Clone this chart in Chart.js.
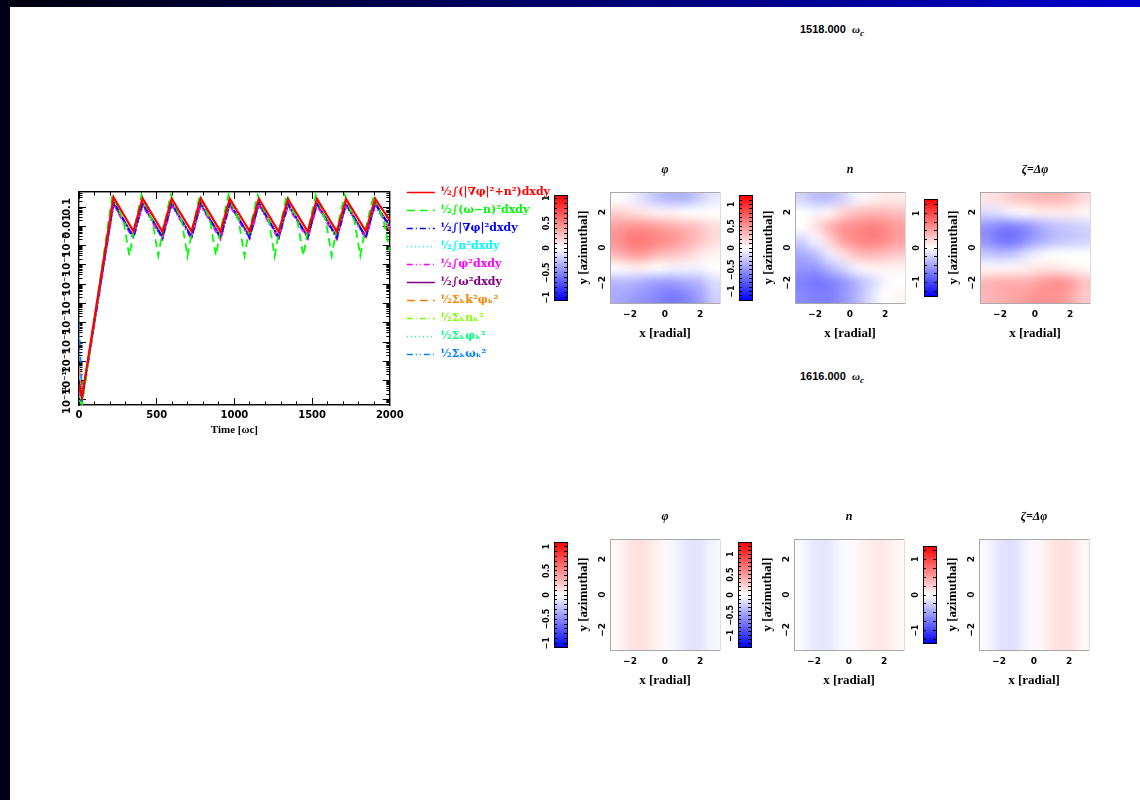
<!DOCTYPE html>
<html>
<head>
<meta charset="utf-8">
<script src="https://cdn.jsdelivr.net/npm/chart.js@4.4.1/dist/chart.umd.min.js"></script>
<style>
body{margin:0;background:#fff;width:1140px;height:800px;position:relative;overflow:hidden}
#topbar{position:absolute;left:0;top:0;width:1140px;height:7px;background:linear-gradient(to right,#00000c,#0000cc)}
#leftbar{position:absolute;left:0;top:0;width:10px;height:800px;background:#000018}
.box{position:absolute}
.stamp{position:absolute;width:200px;text-align:center;font:bold 11px 'Liberation Sans',sans-serif;color:#000}
.stamp i{font-family:'Liberation Serif',serif}
</style>
</head>
<body>
<div id="topbar"></div>
<div id="leftbar"></div>
<div class="stamp" style="left:732px;top:23px">1518.000&nbsp; <i>ω<sub>c</sub></i></div>
<div class="stamp" style="left:732px;top:370px">1616.000&nbsp; <i>ω<sub>c</sub></i></div>
<div class="box" id="wLine" style="left:55px;top:180px;width:505px;height:263px"><canvas id="cLine"></canvas></div>
<script>
// ---- energy time traces ----
const tMain = [0, 20, 222, 350, 409, 537, 596, 724, 783, 911, 970, 1098, 1157, 1285, 1344, 1472, 1531, 1659, 1718, 1846, 1905, 2000];
const eTotal   = [6e-11, 1.5e-11, 0.32, 0.0055, 0.28, 0.0052, 0.27, 0.0055, 0.28, 0.0053, 0.27, 0.0055, 0.27, 0.0052, 0.26, 0.0054, 0.27, 0.0053, 0.26, 0.0055, 0.27, 0.02];
const eGradPhi = [8e-11, 1.2e-11, 0.2, 0.0026, 0.17, 0.0025, 0.17, 0.0026, 0.17, 0.0025, 0.17, 0.0026, 0.17, 0.0025, 0.16, 0.0026, 0.17, 0.0025, 0.16, 0.0026, 0.17, 0.009];
const eDen2    = [4e-11, 1e-11, 0.17, 0.0029, 0.15, 0.0028, 0.15, 0.0029, 0.15, 0.0028, 0.15, 0.0029, 0.15, 0.0028, 0.14, 0.0029, 0.15, 0.0028, 0.14, 0.0029, 0.15, 0.01];
const ePhi2    = [3e-11, 8e-12, 0.13, 0.0022, 0.12, 0.0021, 0.12, 0.0022, 0.12, 0.0021, 0.12, 0.0022, 0.12, 0.0021, 0.11, 0.0022, 0.12, 0.0021, 0.11, 0.0022, 0.12, 0.007];
const eVort2   = [5e-11, 1.3e-11, 0.15, 0.0031, 0.14, 0.003, 0.14, 0.0031, 0.14, 0.003, 0.14, 0.0031, 0.14, 0.003, 0.13, 0.0031, 0.14, 0.003, 0.13, 0.0031, 0.14, 0.011];
const eSpecK2  = [5e-10, 1.4e-11, 0.19, 0.0027, 0.17, 0.0026, 0.17, 0.0027, 0.17, 0.0026, 0.17, 0.0027, 0.17, 0.0026, 0.16, 0.0027, 0.17, 0.0026, 0.16, 0.0027, 0.17, 0.006];
const eSpecN   = [2e-11, 9e-12, 0.16, 0.0028, 0.15, 0.0027, 0.15, 0.0028, 0.15, 0.0027, 0.15, 0.0028, 0.15, 0.0027, 0.14, 0.0028, 0.15, 0.0027, 0.14, 0.0028, 0.15, 0.009];
const eSpecPhi = [3e-11, 1e-11, 0.13, 0.0024, 0.12, 0.0023, 0.12, 0.0024, 0.12, 0.0023, 0.12, 0.0024, 0.12, 0.0023, 0.11, 0.0024, 0.12, 0.0023, 0.11, 0.0024, 0.12, 0.008];
const eSpecW   = [1e-7, 1.3e-11, 0.16, 0.0026, 0.15, 0.0025, 0.15, 0.0026, 0.15, 0.0025, 0.15, 0.0026, 0.15, 0.0025, 0.14, 0.0026, 0.15, 0.0025, 0.14, 0.0026, 0.15, 0.009];
const tDiff = [0, 20, 215, 286, 324, 349, 402, 472, 510, 535, 590, 660, 698, 723, 777, 843, 881, 906, 962, 1027, 1065, 1090,
               1150, 1221, 1259, 1284, 1337, 1405, 1443, 1468, 1523, 1588, 1626, 1651, 1710, 1772, 1810, 1835, 1897, 1960, 2000];
const eDiff = [1e-11, 6e-12, 0.45, 0.02, 3e-4, 4e-3, 0.42, 0.02, 3e-4, 4e-3, 0.43, 0.02, 2.8e-4, 4e-3, 0.42, 0.02, 3e-4, 4e-3, 0.43, 0.02, 3e-4, 4e-3,
               0.42, 0.02, 2.8e-4, 4e-3, 0.43, 0.02, 3e-4, 4e-3, 0.42, 0.02, 3e-4, 4e-3, 0.43, 0.02, 3e-4, 4e-3, 0.42, 0.02, 5e-4];

const seriesLabels = ['½∫(|∇φ|²+n²)dxdy', '½∫(ω−n)²dxdy', '½∫|∇φ|²dxdy', '½∫n²dxdy', '½∫φ²dxdy', '½∫ω²dxdy',
                      '½Σₖk²φₖ²', '½Σₖnₖ²', '½Σₖφₖ²', '½Σₖωₖ²'];
const seriesColors = ['#ff0000', '#00ff00', '#0000ff', '#00ffff', '#ff00ff', '#800080', '#ff8000', '#80ff00', '#00ff80', '#0080ff'];
const seriesDash = [[], [8, 5], [6, 3, 1, 3], [1, 3], [6, 3, 1, 3, 1, 3], [], [8, 5], [6, 3, 1, 3], [1, 3], [6, 3, 1, 3, 1, 3]];

const xMajor = [0, 500, 1000, 1500, 2000];
const yMajor = [1e-11, 1e-10, 1e-9, 1e-8, 1e-7, 1e-6, 1e-5, 1e-4, 1e-3, 0.01, 0.1];
const yMajorLabels = ['10⁻¹¹', '10⁻¹⁰', '10⁻⁹', '10⁻⁸', '10⁻⁷', '10⁻⁶', '10⁻⁵', '10⁻⁴', '10⁻³', '0.01', '0.1'];
const yMin = 5.5e-12, yMax = 0.6;

// ---- field snapshots: rows top (y=π) to bottom (y=−π), columns x=−π..π ----
const phiA = [
  [0.0, -0.05, -0.15, -0.25, -0.3, -0.3, -0.2, -0.1],
  [0.2, 0.15, 0.1, 0.05, 0.05, 0.0, 0.0, 0.0],
  [0.4, 0.45, 0.45, 0.4, 0.35, 0.3, 0.25, 0.15],
  [0.45, 0.55, 0.55, 0.5, 0.45, 0.35, 0.25, 0.15],
  [0.3, 0.4, 0.4, 0.3, 0.25, 0.2, 0.1, 0.05],
  [0.0, 0.05, 0.05, 0.0, -0.05, -0.05, -0.05, 0.0],
  [-0.3, -0.3, -0.35, -0.4, -0.4, -0.35, -0.3, -0.15],
  [-0.35, -0.4, -0.45, -0.5, -0.55, -0.5, -0.4, -0.2]
];
const denA = [
  [-0.2, -0.3, -0.3, -0.2, -0.05, 0.05, 0.1, 0.1],
  [0.0, -0.05, 0.05, 0.2, 0.3, 0.35, 0.35, 0.3],
  [0.0, 0.15, 0.35, 0.5, 0.55, 0.6, 0.55, 0.45],
  [-0.2, -0.05, 0.2, 0.45, 0.55, 0.6, 0.55, 0.45],
  [-0.4, -0.3, -0.1, 0.15, 0.3, 0.35, 0.3, 0.25],
  [-0.5, -0.5, -0.35, -0.2, -0.05, 0.05, 0.05, 0.05],
  [-0.6, -0.65, -0.6, -0.5, -0.35, -0.2, -0.05, 0.0],
  [-0.55, -0.6, -0.6, -0.5, -0.35, -0.15, 0.0, 0.05]
];
const vortA = [
  [0.15, 0.2, 0.3, 0.35, 0.4, 0.4, 0.35, 0.2],
  [-0.2, -0.15, -0.05, 0.05, 0.1, 0.1, 0.1, 0.05],
  [-0.6, -0.7, -0.7, -0.6, -0.45, -0.35, -0.3, -0.25],
  [-0.6, -0.75, -0.75, -0.6, -0.45, -0.35, -0.3, -0.25],
  [-0.3, -0.35, -0.3, -0.15, -0.05, 0.0, 0.0, 0.0],
  [0.05, 0.05, 0.05, 0.1, 0.15, 0.15, 0.1, 0.05],
  [0.4, 0.45, 0.45, 0.45, 0.55, 0.6, 0.55, 0.35],
  [0.4, 0.45, 0.5, 0.55, 0.6, 0.6, 0.5, 0.3]
];
const phiB = [[0.03, 0.12, 0.13, 0.05, -0.03, -0.1, -0.12, -0.04]];
const denB = [[-0.03, -0.12, -0.12, -0.03, 0.04, 0.1, 0.12, 0.05]];
const vortB = [[-0.03, -0.15, -0.17, -0.05, 0.05, 0.15, 0.17, 0.05]];

const heatTicks = [-2, 0, 2];
const heatTickLabels = ['−2', '0', '2'];
const cbTicksA = [-1, -0.5, 0, 0.5, 1];
const cbLabelsA = ['−1', '−0.5', '0', '0.5', '1'];
const cbTicksB = [-1, 0, 1];
const cbLabelsB = ['−1', '0', '1'];
</script>
<script>
Chart.defaults.animation = false;
Chart.defaults.responsive = true;
Chart.defaults.maintainAspectRatio = false;
Chart.defaults.devicePixelRatio = 1;
Chart.defaults.events = [];
Chart.defaults.plugins.tooltip.enabled = false;
Chart.defaults.color = '#000';

const tickFont = {family: 'DejaVu Sans', weight: 'bold', size: 10};
const axisTitleFont = {family: 'Liberation Serif', weight: 'bold', size: 11};

function rgbFor(v, range) {
  const s = Math.max(-1, Math.min(1, v / range));
  if (s < 0) { const w = Math.round(255 * (1 + s)); return [w, w, 255]; }
  const w = Math.round(255 * (1 - s));
  return [255, w, w];
}

// paints the colour field / colour bar under the axes, placed with the chart scales
const fieldPaint = {
  id: 'fieldPaint',
  beforeDraw(chart, args, o) {
    if (!o || !o.mode) return;
    const ctx = chart.ctx, xs = chart.scales.x, ys = chart.scales.y;
    ctx.save();
    if (o.mode === 'bar') {
      const y0 = ys.getPixelForValue(-o.range), y1 = ys.getPixelForValue(o.range);
      const g = ctx.createLinearGradient(0, y0, 0, y1);
      g.addColorStop(0, 'rgb(0,0,255)');
      g.addColorStop(0.5, 'rgb(255,255,255)');
      g.addColorStop(1, 'rgb(255,0,0)');
      ctx.fillStyle = g;
      ctx.fillRect(chart.chartArea.left, y1, chart.chartArea.width, y0 - y1);
    } else {
      const grid = o.grid, rows = grid.length, cols = grid[0].length;
      const off = document.createElement('canvas');
      off.width = cols; off.height = rows;
      const octx = off.getContext('2d');
      const img = octx.createImageData(cols, rows);
      grid.forEach((row, j) => row.forEach((v, i) => {
        const c = rgbFor(v, o.range), k = 4 * (j * cols + i);
        img.data[k] = c[0]; img.data[k + 1] = c[1]; img.data[k + 2] = c[2]; img.data[k + 3] = 255;
      }));
      octx.putImageData(img, 0, 0);
      const xa = xs.getPixelForValue(-Math.PI), xb = xs.getPixelForValue(Math.PI);
      const ya = ys.getPixelForValue(Math.PI), yb = ys.getPixelForValue(-Math.PI);
      ctx.imageSmoothingEnabled = true;
      ctx.imageSmoothingQuality = 'high';
      ctx.drawImage(off, xa, ya, xb - xa, yb - ya);
    }
    ctx.restore();
  }
};
Chart.register(fieldPaint);

function addBox(id, left, top, w, h) {
  const d = document.createElement('div');
  d.className = 'box';
  d.style.cssText = `left:${left}px;top:${top}px;width:${w}px;height:${h}px`;
  const c = document.createElement('canvas');
  c.id = id;
  d.appendChild(c);
  document.body.appendChild(d);
  return c;
}

// ---------- energy traces ----------
const lineSets = [eTotal, eDiff, eGradPhi, eDen2, ePhi2, eVort2, eSpecK2, eSpecN, eSpecPhi, eSpecW];
const lineData = {
  datasets: lineSets.map((vals, i) => ({
    label: seriesLabels[i],
    data: vals.map((v, j) => ({x: (i === 1 ? tDiff : tMain)[j], y: v})),
    borderColor: seriesColors[i],
    backgroundColor: seriesColors[i],
    borderDash: seriesDash[i],
    borderWidth: i === 0 ? 2.2 : 1.8,
    pointRadius: 0,
    pointStyle: 'line',
    tension: 0
  }))
};

const frame = {display: true, color: '#000', width: 1.2};
const xMinorTicks = [];
for (let v = 0; v <= 2000; v += 100) xMinorTicks.push({value: v});
const yMinorTicks = [];
[1e-12].concat(yMajor).forEach(d => [2, 3, 4, 5, 6, 7, 8, 9].forEach(m => {
  const v = m * d;
  if (v >= yMin && v <= yMax) yMinorTicks.push({value: v});
}));

function linAxis(pos, weight, ticks, tl, extra) {
  return Object.assign({
    type: 'linear', position: pos, weight: weight, min: 0, max: 2000,
    afterBuildTicks: s => { s.ticks = ticks.map(t => ({value: t.value})); },
    ticks: {display: false, autoSkip: false},
    grid: {drawOnChartArea: false, tickLength: tl, color: '#000', lineWidth: 1},
    border: frame
  }, extra || {});
}
function logAxis(pos, weight, ticks, tl, extra) {
  return Object.assign({
    type: 'logarithmic', position: pos, weight: weight, min: yMin, max: yMax,
    afterBuildTicks: s => { s.ticks = ticks.map(t => ({value: t.value})); },
    ticks: {display: false, autoSkip: false},
    grid: {drawOnChartArea: false, tickLength: tl, color: '#000', lineWidth: 1},
    border: frame
  }, extra || {});
}

new Chart(document.getElementById('cLine'), {
  type: 'line',
  data: lineData,
  options: {
    parsing: true,
    layout: {padding: 0},
    scales: {
      x: linAxis('bottom', 1, xMajor.map(v => ({value: v})), -7, {
        afterFit: s => { s.height = 38; },
        ticks: {display: true, autoSkip: false, maxRotation: 0, padding: 11, font: tickFont, color: '#000',
                callback: (v, i) => String(xMajor[i])},
        title: {display: true, text: 'Time [ωc]', font: axisTitleFont, color: '#000', padding: {top: 0, bottom: 6}}
      }),
      xm: linAxis('bottom', 0, xMinorTicks, -3.5, {afterFit: s => { s.height = 0; }}),
      x2: linAxis('top', 1, xMajor.map(v => ({value: v})), -7, {afterFit: s => { s.height = 12; }}),
      x2m: linAxis('top', 0, xMinorTicks, -3.5, {afterFit: s => { s.height = 0; }}),
      y: logAxis('left', 1, yMajor.map(v => ({value: v})), -7, {
        afterFit: s => { s.width = 24; },
        ticks: {display: true, autoSkip: false, minRotation: 90, maxRotation: 90, crossAlign: 'center', padding: 5,
                font: tickFont, color: '#000', callback: (v, i) => yMajorLabels[i]}
      }),
      ym: logAxis('left', 0, yMinorTicks, -3.5, {afterFit: s => { s.width = 0; }}),
      y2: logAxis('right', 1, yMajor.map(v => ({value: v})), -7, {afterFit: s => { s.width = 10; }}),
      y2m: logAxis('right', 0, yMinorTicks, -3.5, {afterFit: s => { s.width = 0; }})
    },
    plugins: {
      legend: {
        position: 'right',
        align: 'start',
        maxWidth: 230,
        labels: {
          usePointStyle: true,
          pointStyleWidth: 28,
          padding: 7,
          font: {family: 'DejaVu Serif', weight: 'bold', size: 11},
          generateLabels: ch => Chart.defaults.plugins.legend.labels.generateLabels(ch).map(it => {
            const ds = ch.data.datasets[it.datasetIndex];
            return Object.assign(it, {fontColor: ds.borderColor, strokeStyle: ds.borderColor, lineDash: ds.borderDash,
                                      lineWidth: 1.5, fillStyle: 'rgba(0,0,0,0)'});
          })
        }
      }
    }
  }
});

// ---------- colour bars and field maps ----------
const heatTickFont = {family: 'DejaVu Sans', weight: 'bold', size: 9};
const heatTitleFont = {family: 'Liberation Serif', weight: 'bold', size: 13};
const panelFont = {family: 'Liberation Serif', weight: 'bold', style: 'italic', size: 12};
const cbFont = {family: 'DejaVu Sans', weight: 'bold', size: 8};

function colorBar(id, C, T, range, step, majors, labels) {
  const W = 13, H = 110, yW = 22;
  const canvas = addBox(id, C - yW, T - 2, yW + W + 2, H + 4);
  const minor = [];
  const n = Math.floor(range / step + 1e-9);
  for (let k = -n; k <= n; k++) minor.push({value: +(k * step).toFixed(4)});
  const labelFor = v => {
    const i = majors.findIndex(m => Math.abs(m - v) < 1e-6);
    return i < 0 ? '' : labels[i];
  };
  const widest = Math.max(...labels.map(l => l.length));
  const edge = {drawOnChartArea: false, tickLength: -3, color: '#000', lineWidth: 1};
  new Chart(canvas, {
    type: 'scatter',
    data: {datasets: [{data: []}]},
    options: {
      layout: {padding: 0},
      plugins: {legend: {display: false}, fieldPaint: {mode: 'bar', range: range}},
      scales: {
        x: {min: 0, max: 1, ticks: {display: false}, grid: {display: false}, border: {color: '#000'}, afterFit: s => { s.height = 2; }},
        x2: {position: 'top', min: 0, max: 1, ticks: {display: false}, grid: {display: false}, border: {color: '#000'}, afterFit: s => { s.height = 2; }},
        y: {min: -range, max: range, afterBuildTicks: s => { s.ticks = minor.map(t => ({value: t.value})); },
            afterFit: s => { s.width = yW; },
            ticks: {autoSkip: false, minRotation: 90, maxRotation: 90, crossAlign: 'center',
                    padding: widest > 2 ? 0 : 4, font: cbFont, color: '#000', callback: v => labelFor(v)},
            grid: edge, border: {color: '#000'}},
        y2: {position: 'right', min: -range, max: range, afterBuildTicks: s => { s.ticks = minor.map(t => ({value: t.value})); },
             afterFit: s => { s.width = 2; }, ticks: {display: false}, grid: edge, border: {color: '#000'}}
      }
    }
  });
}

function fieldMap(id, L, T, grid, range, title) {
  const W = 110, H = 111, yW = 40, xH = 45, tH = 30;
  const canvas = addBox(id, L - yW, T - tH, yW + W + 4, tH + H + xH);
  const ax = {min: -Math.PI, max: Math.PI,
              afterBuildTicks: s => { s.ticks = heatTicks.map(v => ({value: v})); },
              grid: {display: false}, border: {color: '#aaa', width: 1}};
  new Chart(canvas, {
    type: 'scatter',
    data: {datasets: [{data: []}]},
    options: {
      layout: {padding: 0},
      plugins: {legend: {display: false}, fieldPaint: {mode: 'field', grid: grid, range: range}},
      scales: {
        x: Object.assign({}, ax, {afterFit: s => { s.height = xH; },
            ticks: {autoSkip: false, maxRotation: 0, padding: -2, font: heatTickFont, color: '#000', callback: (v, i) => heatTickLabels[i]},
            title: {display: true, text: 'x [radial]', font: heatTitleFont, color: '#000', padding: {top: 0, bottom: 7}}}),
        x2: Object.assign({}, ax, {position: 'top', afterFit: s => { s.height = tH; }, ticks: {display: false},
            title: {display: true, text: title, font: panelFont, color: '#000', padding: {top: 1, bottom: 0}}}),
        y: Object.assign({}, ax, {afterFit: s => { s.width = yW; },
            ticks: {autoSkip: false, minRotation: 90, maxRotation: 90, crossAlign: 'center', padding: -8,
                    font: heatTickFont, color: '#000', callback: (v, i) => heatTickLabels[i]},
            title: {display: true, text: 'y [azimuthal]', font: heatTitleFont, color: '#000', padding: {top: 6, bottom: 0}}}),
        y2: Object.assign({}, ax, {position: 'right', afterFit: s => { s.width = 4; }, ticks: {display: false},
            border: {color: '#ddd', width: 1}})
      }
    }
  });
}

colorBar('cb1', 554, 193, 1.05, 0.1, cbTicksA, cbLabelsA);
colorBar('cb2', 739, 193, 1.2, 0.1, cbTicksA, cbLabelsA);
colorBar('cb3', 924, 193, 1.4, 0.25, cbTicksB, cbLabelsB);
fieldMap('h1', 610, 192, phiA, 1.05, 'φ');
fieldMap('h2', 795, 192, denA, 1.2, 'n');
fieldMap('h3', 980, 192, vortA, 1.4, 'ζ=Δφ');

colorBar('cb4', 554, 540, 1.08, 0.1, cbTicksA, cbLabelsA);
colorBar('cb5', 738, 540, 1.28, 0.1, cbTicksA, cbLabelsA);
colorBar('cb6', 923, 540, 1.35, 0.25, cbTicksB, cbLabelsB);
fieldMap('h4', 610, 539, phiB, 1.08, 'φ');
fieldMap('h5', 794, 539, denB, 1.28, 'n');
fieldMap('h6', 979, 539, vortB, 1.35, 'ζ=Δφ');
</script>
</body>
</html>
